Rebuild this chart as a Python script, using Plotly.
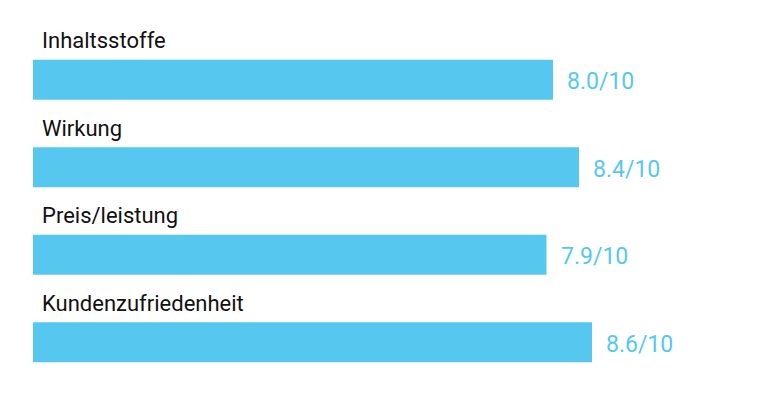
import plotly.graph_objects as go

categories = ["Inhaltsstoffe", "Wirkung", "Preis/leistung", "Kundenzufriedenheit"]
scores = [8.0, 8.4, 7.9, 8.6]
max_score = 10
value_labels = [f"{v:.1f}/{max_score}" for v in scores]

bar_color = "#56C8F0"
positions = list(range(len(categories)))

fig = go.Figure()
fig.add_trace(go.Bar(
    x=scores, y=positions, orientation="h",
    marker=dict(color=bar_color, line=dict(width=0)),
    width=0.457, hoverinfo="skip",
))

for i, (cat, v, lab) in enumerate(zip(categories, scores, value_labels)):
    fig.add_annotation(x=0, y=i, xref="x", yref="y", text=cat, showarrow=False,
                       xanchor="left", yanchor="middle", xshift=7, yshift=39,
                       font=dict(family="Roboto", size=22, color="#111111"))
    fig.add_annotation(x=v, y=i, xref="x", yref="y", text=lab, showarrow=False,
                       xanchor="left", yanchor="middle", xshift=12, yshift=-2,
                       font=dict(family="Roboto", size=23, color=bar_color))

fig.update_layout(
    width=756, height=397,
    margin=dict(l=25, r=16, t=28, b=19),
    paper_bgcolor="white", plot_bgcolor="white",
    showlegend=False,
    xaxis=dict(range=[0, 11], visible=False, fixedrange=True),
    yaxis=dict(range=[3.5, -0.5], visible=False, fixedrange=True),
)

fig.write_html("out.html")
